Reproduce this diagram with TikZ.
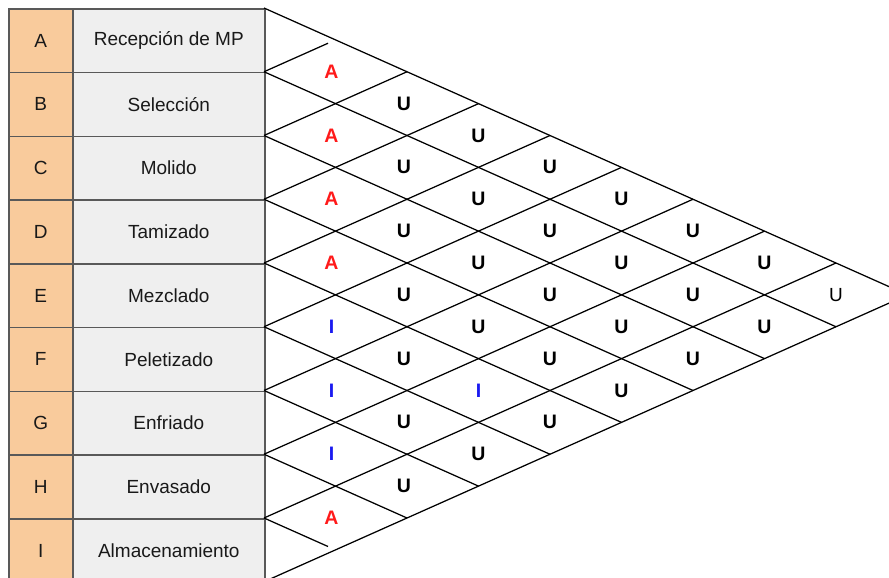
\documentclass[tikz,border=0pt]{standalone}
\usepackage{fontspec}
\setmainfont{Liberation Sans}
\definecolor{orangecell}{HTML}{F9CB9C}
\definecolor{graycell}{HTML}{EFEFEF}
\definecolor{cellborder}{HTML}{595959}
\definecolor{colA}{HTML}{FF1A1A}
\definecolor{colI}{HTML}{1A1AF0}
\begin{document}
\begin{tikzpicture}[x=1pt,y=-1pt,
  cellbase/.style={draw=cellborder,line width=1.6pt,minimum height=63.75pt,inner sep=0pt,anchor=north west,font=\fontsize{19}{22}\selectfont,text=black!90},
  letcell/.style={cellbase,fill=orangecell,minimum width=64pt},
  namecell/.style={cellbase,fill=graycell,minimum width=192pt},
  latt/.style={draw=black,line width=1.25pt},
  lblbase/.style={inner sep=0pt,font=\fontsize{19.5}{22}\selectfont\bfseries},
  lblA/.style={lblbase,text=colA},
  lblI/.style={lblbase,text=colI},
  lblU/.style={lblbase,text=black},
  lblUthin/.style={inner sep=0pt,font=\fontsize{19}{22}\selectfont,text=black}]
\useasboundingbox (0,0) rectangle (889,578);
\def\dx{71.5}
\def\hh{63.75}
% table
\foreach [count=\r from 0] \l/\t in {A/Recepción de MP,B/Selección,C/Molido,D/Tamizado,E/Mezclado,F/Peletizado,G/Enfriado,H/Envasado,I/Almacenamiento}{
  \node[letcell] (let\l) at (8,{8+\r*\hh}) {\l};
  \node[namecell] (name\l) at (72,{8+\r*\hh}) {\t};
}
% lattice: down-right lines
\foreach \m in {0,...,7}
  \draw[latt] (264,{8+\m*\hh}) -- ++({(9-\m)*\dx},{(9-\m)*\hh/2});
\draw[latt] (264,{8+8*\hh}) -- ++(64,28.5);
% lattice: up-right lines
\foreach \m in {2,...,9}
  \draw[latt] (264,{8+\m*\hh}) -- ++({\m*\dx},{-\m*\hh/2});
\draw[latt] (264,{8+\hh}) -- ++(64,-28.5);
% relationship labels
\foreach \i/\j/\s/\t in {0/1/A/A,1/2/A/A,2/3/A/A,3/4/A/A,4/5/I/I,5/6/I/I,6/7/I/I,7/8/A/A,
  0/2/U/U,1/3/U/U,2/4/U/U,3/5/U/U,4/6/U/U,5/7/U/U,6/8/U/U,
  0/3/U/U,1/4/U/U,2/5/U/U,3/6/U/U,4/7/I/I,5/8/U/U,
  0/4/U/U,1/5/U/U,2/6/U/U,3/7/U/U,4/8/U/U,
  0/5/U/U,1/6/U/U,2/7/U/U,3/8/U/U,
  0/6/U/U,1/7/U/U,2/8/U/U,
  0/7/U/U,1/8/U/U,
  0/8/Uthin/U}
  \node[lbl\s] (rel\i\j) at ({264+(\j-\i)*\dx-(\j-\i==1)*4-(\j-\i==2)*3},{8+((\i+\j)/2+0.5)*\hh}) {\t};
\end{tikzpicture}
\end{document}
